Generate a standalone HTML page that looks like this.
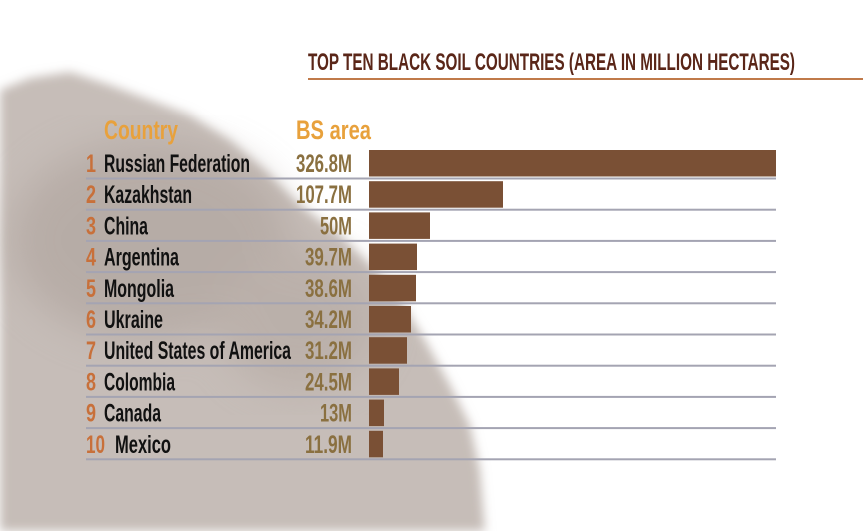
<!DOCTYPE html>
<html><head><meta charset="utf-8"><style>
html,body{margin:0;padding:0;background:#fff;}
svg{display:block;}
text{font-family:"Liberation Sans",sans-serif;font-weight:bold;}
</style></head><body>
<svg width="863" height="531" viewBox="0 0 863 531" xmlns="http://www.w3.org/2000/svg">
<defs>
<filter id="bl" x="-20%" y="-20%" width="140%" height="140%"><feGaussianBlur stdDeviation="5"/></filter>
<filter id="bl2"><feGaussianBlur stdDeviation="20"/></filter>
</defs>
<rect width="863" height="531" fill="#fff"/>
<g filter="url(#bl)">
<polygon points="0,90 30,78 70,72 110,85 150,100 190,115 230,140 265,170 300,205 340,235 375,270 400,300 425,340 450,385 470,425 480,470 485,531 0,531" fill="#c6bdb8"/>
</g>
<g filter="url(#bl2)" opacity="0.5">
<ellipse cx="150" cy="240" rx="140" ry="100" fill="#a89c95"/>
<ellipse cx="300" cy="320" rx="80" ry="70" fill="#b0a49d"/>
</g>
<text x="308" y="70" font-size="24" fill="#5a2618" textLength="487" lengthAdjust="spacingAndGlyphs">TOP TEN BLACK SOIL COUNTRIES (AREA IN MILLION HECTARES)</text>
<rect x="308" y="78" width="555" height="2" fill="#c07a4a"/>
<text x="104" y="139" font-size="27" fill="#e8a13c" textLength="74" lengthAdjust="spacingAndGlyphs">Country</text>
<text x="296" y="139" font-size="27" fill="#e8a13c" textLength="75" lengthAdjust="spacingAndGlyphs">BS area</text>
<g fill="#a4a4b2">
<rect x="86" y="177.5" width="690" height="2"/>
<rect x="86" y="208.7" width="690" height="2"/>
<rect x="86" y="239.9" width="690" height="2"/>
<rect x="86" y="271.1" width="690" height="2"/>
<rect x="86" y="302.3" width="690" height="2"/>
<rect x="86" y="333.5" width="690" height="2"/>
<rect x="86" y="364.7" width="690" height="2"/>
<rect x="86" y="395.9" width="690" height="2"/>
<rect x="86" y="427.1" width="690" height="2"/>
<rect x="86" y="458.3" width="690" height="2"/>
</g>
<g fill="#7a5035">
<rect x="369" y="150" width="407" height="26.5"/>
<rect x="369" y="181.2" width="134" height="26.5"/>
<rect x="369" y="212.4" width="61" height="26.5"/>
<rect x="369" y="243.6" width="48" height="26.5"/>
<rect x="369" y="274.8" width="47" height="26.5"/>
<rect x="369" y="306" width="42" height="26.5"/>
<rect x="369" y="337.2" width="38" height="26.5"/>
<rect x="369" y="368.4" width="30" height="26.5"/>
<rect x="369" y="399.6" width="15" height="26.5"/>
<rect x="369" y="430.8" width="14" height="26.5"/>
</g>
<g font-size="25" fill="#c8703a">
<text x="86" y="172" textLength="10" lengthAdjust="spacingAndGlyphs">1</text>
<text x="86" y="203.2" textLength="10" lengthAdjust="spacingAndGlyphs">2</text>
<text x="86" y="234.4" textLength="10" lengthAdjust="spacingAndGlyphs">3</text>
<text x="86" y="265.6" textLength="10" lengthAdjust="spacingAndGlyphs">4</text>
<text x="86" y="296.8" textLength="10" lengthAdjust="spacingAndGlyphs">5</text>
<text x="86" y="328" textLength="10" lengthAdjust="spacingAndGlyphs">6</text>
<text x="86" y="359.2" textLength="10" lengthAdjust="spacingAndGlyphs">7</text>
<text x="86" y="390.4" textLength="10" lengthAdjust="spacingAndGlyphs">8</text>
<text x="86" y="421.6" textLength="10" lengthAdjust="spacingAndGlyphs">9</text>
<text x="86" y="452.8" textLength="19" lengthAdjust="spacingAndGlyphs">10</text>
</g>
<g font-size="25" fill="#111">
<text x="104" y="172" textLength="146" lengthAdjust="spacingAndGlyphs">Russian Federation</text>
<text x="104" y="203.2" textLength="88" lengthAdjust="spacingAndGlyphs">Kazakhstan</text>
<text x="104" y="234.4" textLength="44" lengthAdjust="spacingAndGlyphs">China</text>
<text x="104" y="265.6" textLength="75" lengthAdjust="spacingAndGlyphs">Argentina</text>
<text x="104" y="296.8" textLength="70" lengthAdjust="spacingAndGlyphs">Mongolia</text>
<text x="104" y="328" textLength="59" lengthAdjust="spacingAndGlyphs">Ukraine</text>
<text x="104" y="359.2" textLength="187" lengthAdjust="spacingAndGlyphs">United States of America</text>
<text x="104" y="390.4" textLength="71" lengthAdjust="spacingAndGlyphs">Colombia</text>
<text x="104" y="421.6" textLength="57" lengthAdjust="spacingAndGlyphs">Canada</text>
<text x="115" y="452.8" textLength="56" lengthAdjust="spacingAndGlyphs">Mexico</text>
</g>
<g font-size="25" fill="#8a7040">
<text x="296" y="172" textLength="56" lengthAdjust="spacingAndGlyphs">326.8M</text>
<text x="296" y="203.2" textLength="56" lengthAdjust="spacingAndGlyphs">107.7M</text>
<text x="320" y="234.4" textLength="32" lengthAdjust="spacingAndGlyphs">50M</text>
<text x="305" y="265.6" textLength="47" lengthAdjust="spacingAndGlyphs">39.7M</text>
<text x="305" y="296.8" textLength="47" lengthAdjust="spacingAndGlyphs">38.6M</text>
<text x="305" y="328" textLength="47" lengthAdjust="spacingAndGlyphs">34.2M</text>
<text x="305" y="359.2" textLength="47" lengthAdjust="spacingAndGlyphs">31.2M</text>
<text x="305" y="390.4" textLength="47" lengthAdjust="spacingAndGlyphs">24.5M</text>
<text x="320" y="421.6" textLength="32" lengthAdjust="spacingAndGlyphs">13M</text>
<text x="305" y="452.8" textLength="47" lengthAdjust="spacingAndGlyphs">11.9M</text>
</g>
</svg>
</body></html>
